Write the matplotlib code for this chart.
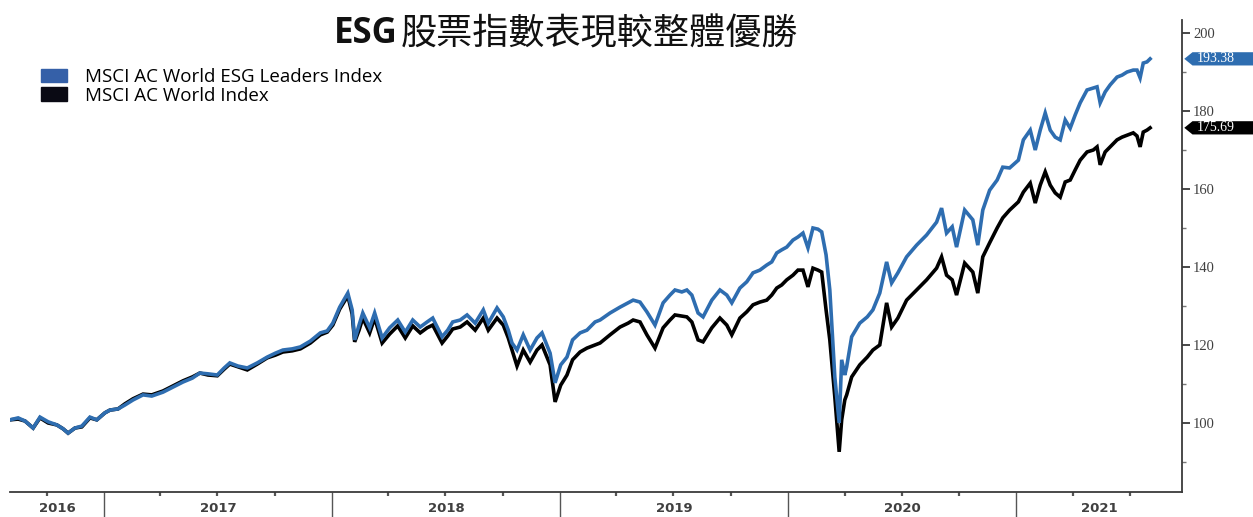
import matplotlib
matplotlib.use("Agg")
import matplotlib.pyplot as plt
import matplotlib.dates as mdates
import pandas as pd
from matplotlib.patches import Patch, Polygon
from matplotlib.ticker import NullFormatter
from matplotlib.transforms import blended_transform_factory

plt.rcParams['font.family'] = ['Noto Sans CJK TC', 'DejaVu Sans']

title_latin = "ESG"
title_cjk = "股票指數表現較整體優勝"
esg_label = "MSCI AC World ESG Leaders Index"
world_label = "MSCI AC World Index"
esg_color = "#2e6db0"
esg_patch_color = "#3560a8"
world_color = "#000000"
years = [2016, 2017, 2018, 2019, 2020, 2021]

# values, grouped by year
dates_2016 = ["2016-08-03", "2016-08-16", "2016-08-27", "2016-09-09", "2016-09-20",
              "2016-10-03", "2016-10-17", "2016-10-27", "2016-11-04", "2016-11-15",
              "2016-11-26", "2016-12-09", "2016-12-20", "2017-01-02"]
esg_2016 = [100.8, 101.3, 100.5, 98.7, 101.5, 100.3, 99.5, 98.5, 97.4, 98.7, 99.2, 101.5, 100.8, 102.6]
world_2016 = [100.8, 101.0, 100.5, 98.7, 101.3, 100.0, 99.5, 98.5, 97.4, 98.7, 99.0, 101.3, 100.8, 102.6]

dates_2017 = ["2017-01-10", "2017-01-23", "2017-02-03", "2017-02-16", "2017-03-04",
              "2017-03-18", "2017-04-05", "2017-04-21", "2017-05-07", "2017-05-22",
              "2017-06-03", "2017-06-16", "2017-07-01", "2017-07-12", "2017-07-21",
              "2017-08-03", "2017-08-18", "2017-09-03", "2017-09-19", "2017-10-02",
              "2017-10-14", "2017-10-29", "2017-11-11", "2017-11-27", "2017-12-13",
              "2017-12-24"]
esg_2017 = [103.3, 103.6, 104.6, 105.9, 107.2, 106.9, 107.9, 109.2, 110.5, 111.5, 112.8, 112.6, 112.3,
            114.1, 115.4, 114.6, 114.1, 115.4, 116.9, 117.9, 118.7, 119.0, 119.5, 121.0, 123.1, 123.6]
world_2017 = [103.3, 103.6, 104.9, 106.2, 107.4, 107.2, 108.2, 109.5, 110.8, 111.8, 112.8, 112.3, 112.1,
              113.8, 115.1, 114.4, 113.6, 115.1, 116.7, 117.4, 118.2, 118.5, 119.0, 120.5, 122.6, 123.3]

dates_2018 = ["2018-01-02", "2018-01-13", "2018-01-26", "2018-02-02", "2018-02-06",
              "2018-02-13", "2018-02-19", "2018-03-02", "2018-03-10", "2018-03-22",
              "2018-04-03", "2018-04-16", "2018-04-28", "2018-05-10", "2018-05-22",
              "2018-06-02", "2018-06-11", "2018-06-26", "2018-07-05", "2018-07-13",
              "2018-07-25", "2018-08-05", "2018-08-18", "2018-08-31", "2018-09-08",
              "2018-09-22", "2018-10-02", "2018-10-10", "2018-10-16", "2018-10-24",
              "2018-11-03", "2018-11-14", "2018-11-25", "2018-12-03", "2018-12-16",
              "2018-12-24"]
esg_2018 = [125.6, 129.7, 133.3, 129.0, 121.3, 125.1, 128.2, 124.4, 128.2, 121.8, 124.4, 126.4,
            123.3, 126.4, 124.6, 125.9, 126.9, 122.1, 123.8, 125.9, 126.4, 127.7, 125.6, 129.0,
            125.6, 129.5, 127.2, 123.8, 120.5, 118.7, 122.6, 118.7, 121.8, 123.1, 117.9, 110.3]
world_2018 = [125.1, 129.2, 132.6, 127.9, 120.8, 123.8, 126.9, 123.1, 126.9, 120.5, 122.8, 124.9,
              121.8, 124.9, 123.1, 124.4, 125.1, 120.5, 122.3, 124.1, 124.6, 125.9, 123.8, 126.9,
              123.8, 126.9, 125.1, 121.8, 118.7, 114.6, 118.7, 115.6, 118.7, 120.0, 114.9, 105.4]

dates_2019 = ["2019-01-02", "2019-01-12", "2019-01-21", "2019-02-02", "2019-02-13",
              "2019-02-26", "2019-03-06", "2019-03-22", "2019-04-07", "2019-04-20",
              "2019-04-28", "2019-05-09", "2019-05-20", "2019-06-02", "2019-06-15",
              "2019-06-26", "2019-07-04", "2019-07-15", "2019-07-23", "2019-07-31",
              "2019-08-10", "2019-08-18", "2019-09-01", "2019-09-14", "2019-09-25",
              "2019-10-03", "2019-10-16", "2019-10-27", "2019-11-06", "2019-11-17",
              "2019-11-28", "2019-12-06", "2019-12-14", "2019-12-22", "2019-12-30"]
esg_2019 = [114.9, 116.9, 121.3, 123.1, 123.8, 125.9, 126.4, 128.2, 129.7, 130.8, 131.5, 131.0,
            128.5, 125.1, 130.8, 132.8, 134.1, 133.6, 134.1, 132.8, 128.2, 127.2, 131.5, 134.1,
            132.8, 130.8, 134.6, 136.2, 138.5, 139.2, 140.5, 141.3, 143.6, 144.4, 145.1]
world_2019 = [109.7, 112.3, 116.2, 118.2, 119.2, 120.0, 120.5, 122.6, 124.6, 125.6, 126.4, 125.9,
              122.6, 119.2, 124.4, 126.4, 127.7, 127.4, 127.2, 125.9, 121.3, 120.8, 124.4, 126.9,
              125.1, 122.6, 126.9, 128.5, 130.3, 131.0, 131.5, 132.8, 134.6, 135.4, 136.7]

dates_2020 = ["2020-01-09", "2020-01-17", "2020-01-25", "2020-02-02", "2020-02-10",
              "2020-02-18", "2020-02-24", "2020-03-02", "2020-03-08", "2020-03-16",
              "2020-03-23", "2020-03-27", "2020-04-01", "2020-04-04", "2020-04-12",
              "2020-04-25", "2020-05-07", "2020-05-16", "2020-05-27", "2020-06-07",
              "2020-06-15", "2020-06-25", "2020-07-09", "2020-07-25", "2020-08-10",
              "2020-08-26", "2020-09-03", "2020-09-11", "2020-09-20", "2020-09-27",
              "2020-10-10", "2020-10-23", "2020-10-31", "2020-11-08", "2020-11-19",
              "2020-12-01", "2020-12-10", "2020-12-21"]
esg_2020 = [146.9, 147.7, 148.7, 144.9, 150.0, 149.7, 149.0, 143.1, 134.1, 111.8, 100.0, 116.2,
            112.3, 114.4, 122.1, 125.6, 127.2, 129.0, 133.3, 141.3, 135.9, 138.5, 142.6, 145.6,
            148.2, 151.5, 155.1, 148.7, 150.3, 145.1, 154.6, 152.1, 145.6, 154.6, 159.7, 162.3,
            165.6, 165.4]
world_2020 = [137.9, 139.2, 139.2, 134.9, 139.7, 139.2, 138.7, 129.0, 121.3, 106.7, 92.6, 100.8,
              105.9, 107.2, 111.8, 114.9, 116.9, 118.7, 120.0, 130.8, 124.6, 126.9, 131.5, 134.1,
              136.7, 139.7, 142.6, 137.9, 136.7, 132.8, 141.0, 138.7, 133.3, 142.6, 146.2, 150.0,
              152.6, 154.6]

dates_2021 = ["2021-01-04", "2021-01-12", "2021-01-23", "2021-01-31", "2021-02-08",
              "2021-02-16", "2021-02-24", "2021-03-04", "2021-03-12", "2021-03-20",
              "2021-03-28", "2021-04-05", "2021-04-13", "2021-04-24", "2021-05-04",
              "2021-05-10", "2021-05-15", "2021-05-23", "2021-05-31", "2021-06-11",
              "2021-06-19", "2021-06-27", "2021-07-07", "2021-07-13", "2021-07-18",
              "2021-07-23", "2021-07-29", "2021-08-03"]
esg_2021 = [167.4, 172.6, 175.1, 170.0, 175.1, 179.5, 175.1, 173.3, 172.6, 177.7, 175.6, 179.0,
            182.1, 185.4, 185.9, 186.2, 182.1, 184.9, 186.7, 188.7, 189.2, 190.0, 190.5, 190.5,
            188.5, 192.3, 192.6, 193.38]
world_2021 = [156.7, 159.2, 161.5, 156.4, 161.0, 164.4, 161.0, 159.0, 157.9, 161.8, 162.3, 164.9,
              167.4, 169.5, 170.0, 170.8, 166.2, 169.5, 170.8, 172.6, 173.3, 173.8, 174.4, 173.6,
              170.8, 174.6, 175.1, 175.69]

dates = pd.to_datetime(dates_2016 + dates_2017 + dates_2018 + dates_2019 + dates_2020 + dates_2021)
esg = esg_2016 + esg_2017 + esg_2018 + esg_2019 + esg_2020 + esg_2021
world = world_2016 + world_2017 + world_2018 + world_2019 + world_2020 + world_2021

fig = plt.figure(figsize=(12.53, 5.17), dpi=100)
ax = fig.add_axes([0.008, 0.0484, 0.9353, 0.9126])

ax.plot(dates, world, color=world_color, lw=2.6, solid_joinstyle='miter')
ax.plot(dates, esg, color=esg_color, lw=2.6, solid_joinstyle='miter')

x_start = pd.Timestamp("2016-08-03")
x_end = pd.Timestamp("2021-09-23")
ax.set_xlim(x_start, x_end)
ax.set_ylim(82.3, 203.3)

ax.spines['top'].set_visible(False)
ax.spines['left'].set_visible(False)
for s in ['right', 'bottom']:
    ax.spines[s].set_color('#3a3a3a')
    ax.spines[s].set_linewidth(1.3)

# y axis on the right
ax.yaxis.tick_right()
ax.set_yticks(range(100, 201, 20))
ax.set_yticks(range(90, 200, 20), minor=True)
ax.tick_params(axis='y', which='major', length=6, width=1.3, colors='#3a3a3a', pad=2)
ax.tick_params(axis='y', which='minor', length=3, width=1.0, colors='#777777')
for lab in ax.get_yticklabels():
    lab.set_family('Liberation Serif')
    lab.set_fontsize(10.5)
    lab.set_color('#404040')

# x axis: year separators and quarter ticks
ax.xaxis.set_major_locator(mdates.YearLocator())
ax.xaxis.set_minor_locator(mdates.MonthLocator(bymonth=[4, 7, 10]))
ax.xaxis.set_major_formatter(NullFormatter())
ax.tick_params(axis='x', which='major', length=19, width=1.0, color='#555555')
ax.tick_params(axis='x', which='minor', length=3, width=1.6, color='#555555')

trans = blended_transform_factory(ax.transData, ax.transAxes)
for yr in years:
    a = max(pd.Timestamp(f"{yr}-01-01"), x_start)
    b = min(pd.Timestamp(f"{yr + 1}-01-01"), x_end)
    mid = a + (b - a) / 2
    ax.text(mid, -0.034, str(yr), transform=trans, ha='center', va='center',
            fontsize=9.5, fontweight='bold', color='#404040', family='DejaVu Sans')

# legend
handles = [Patch(color=esg_patch_color, label=esg_label),
           Patch(color='#0a0a14', label=world_label)]
ax.legend(handles=handles, loc='upper left', bbox_to_anchor=(0.033, 0.868),
          bbox_transform=fig.transFigure, frameon=False,
          handlelength=1.35, handleheight=0.7, handletextpad=1.0,
          labelspacing=0.02, borderpad=0, borderaxespad=0,
          prop={'family': ['Open Sans', 'DejaVu Sans'], 'size': 13.5})

# title: bold latin part, CJK part
fig.text(0.3175, 0.934, title_latin, ha='right', va='center', fontsize=25,
         fontweight='bold', color='#111111', family=['Open Sans', 'DejaVu Sans'])
fig.text(0.3195, 0.934, title_cjk, ha='left', va='center', fontsize=26,
         fontweight='medium', color='#111111')

# last value tags on the right
tag_trans = blended_transform_factory(ax.transAxes, ax.transData)
for val, col in [(esg[-1], esg_color), (world[-1], world_color)]:
    h = 1.7
    poly = Polygon([(1.002, val), (1.009, val + h), (1.07, val + h),
                    (1.07, val - h), (1.009, val - h)], closed=True,
                   transform=tag_trans, facecolor=col, edgecolor='none', clip_on=False)
    ax.add_patch(poly)
    ax.text(1.0125, val, f"{val:.2f}", transform=tag_trans, ha='left', va='center',
            color='white', fontsize=10, family='Liberation Serif')

fig.savefig("out.png", dpi=100)
